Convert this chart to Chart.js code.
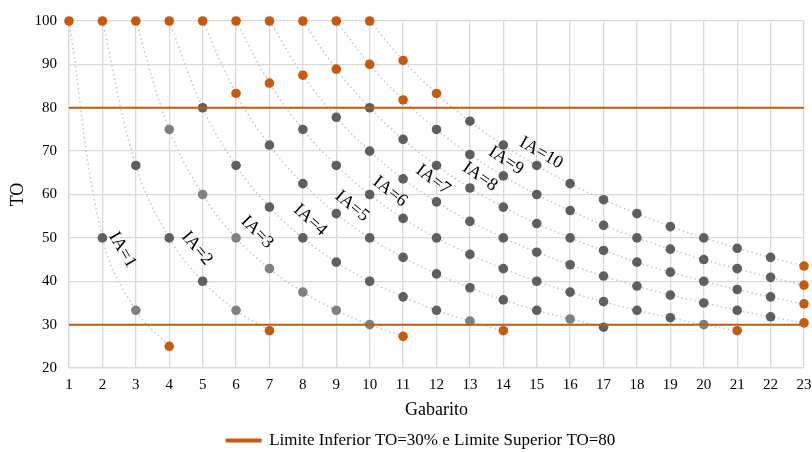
<!DOCTYPE html>
<html>
<head>
<meta charset="utf-8">
<script src="https://cdn.jsdelivr.net/npm/chart.js@4"></script>
<style>
  body { margin: 0; background: #fff; }
</style>
</head>
<body>
<canvas id="chart" width="812" height="452"></canvas>
<script>
// Gabarito values (x axis)
const gabarito = ['1','2','3','4','5','6','7','8','9','10','11','12','13','14','15','16','17','18','19','20','21','22','23'];

// TO values for each IA (null where the curve has not started)
const ia1 = [100, 50, 33.3, 25];
const ia2 = [null, 100, 66.7, 50, 40, 33.3, 28.6];
const ia3 = [null, null, 100, 75, 60, 50, 42.9, 37.5, 33.3, 30, 27.3];
const ia4 = [null, null, null, 100, 80, 66.7, 57.1, 50, 44.4, 40, 36.4, 33.3, 30.8, 28.6];
const ia5 = [null, null, null, null, 100, 83.3, 71.4, 62.5, 55.6, 50, 45.5, 41.7, 38.5, 35.7, 33.3, 31.3, 29.4];
const ia6 = [null, null, null, null, null, 100, 85.7, 75, 66.7, 60, 54.5, 50, 46.2, 42.9, 40, 37.5, 35.3, 33.3, 31.6, 30, 28.6];
const ia7 = [null, null, null, null, null, null, 100, 87.5, 77.8, 70, 63.6, 58.3, 53.8, 50, 46.7, 43.8, 41.2, 38.9, 36.8, 35, 33.3, 31.8, 30.4];
const ia8 = [null, null, null, null, null, null, null, 100, 88.9, 80, 72.7, 66.7, 61.5, 57.1, 53.3, 50, 47.1, 44.4, 42.1, 40, 38.1, 36.4, 34.8];
const ia9 = [null, null, null, null, null, null, null, null, 100, 90, 81.8, 75, 69.2, 64.3, 60, 56.3, 52.9, 50, 47.4, 45, 42.9, 40.9, 39.1];
const ia10 = [null, null, null, null, null, null, null, null, null, 100, 90.9, 83.3, 76.9, 71.4, 66.7, 62.5, 58.8, 55.6, 52.6, 50, 47.6, 45.5, 43.5];

const seriesNames = ['IA=1','IA=2','IA=3','IA=4','IA=5','IA=6','IA=7','IA=8','IA=9','IA=10'];
const seriesData = [ia1, ia2, ia3, ia4, ia5, ia6, ia7, ia8, ia9, ia10];

// label positions along the curves: [gabarito, TO, angle in degrees]
const labelPos = [
  [2.6, 47.2, 60], [4.83, 47.6, 50], [6.63, 51.3, 45], [8.22, 54.1, 42], [9.47, 57.3, 40],
  [10.61, 60.7, 38], [11.9, 63.4, 37], [13.3, 64.1, 35], [14.08, 67.8, 33], [15.13, 69.6, 30]
];

const lowerLimit = 30;
const upperLimit = 80;
const legendText = 'Limite Inferior TO=30% e Limite Superior TO=80';

const ORANGE = '#c55a11';
const GRAY = '#5f5f5f';
const LIGHT = '#808080';
const SERIF = "'Liberation Serif', 'Times New Roman', serif";

function pointColors(values, idx) {
  return values.map(function (v, i) {
    if (v === null) return GRAY;
    if (v > upperLimit || v < 29 || i === gabarito.length - 1) return ORANGE;
    const next = values[i + 1];
    if (idx === 2 || (next !== undefined && next < lowerLimit)) return LIGHT;
    return GRAY;
  });
}

const datasets = [
  {
    label: legendText,
    data: [{ x: '1', y: lowerLimit }, { x: '23', y: lowerLimit }],
    borderColor: ORANGE,
    backgroundColor: ORANGE,
    borderWidth: 2,
    pointRadius: 0,
    clip: false,
    order: 0
  },
  {
    label: 'upper',
    data: [{ x: '1', y: upperLimit }, { x: '23', y: upperLimit }],
    borderColor: ORANGE,
    backgroundColor: ORANGE,
    borderWidth: 2,
    pointRadius: 0,
    clip: false,
    order: 0
  }
];

seriesData.forEach(function (vals, idx) {
  const cols = pointColors(vals, idx);
  datasets.push({
    label: seriesNames[idx],
    data: vals,
    borderColor: '#c4c4c4',
    borderWidth: 1.5,
    borderDash: [1.5, 3],
    tension: 0.4,
    pointRadius: 4.8,
    pointHoverRadius: 4.8,
    pointBorderWidth: 0,
    pointBackgroundColor: cols,
    pointBorderColor: cols,
    clip: false,
    order: 1
  });
});

// draws the rotated IA=n texts next to their curves
const curveLabels = {
  id: 'curveLabels',
  afterLayout(chart) {
    // the legend sits a little right of the canvas centre and near the bottom edge
    chart.legend.left += 15;
    chart.legend.right += 15;
    chart.legend.top += 7;
    chart.legend.bottom += 7;
  },
  afterDatasetsDraw(chart) {
    const ctx = chart.ctx;
    const xs = chart.scales.x;
    const ys = chart.scales.y;
    ctx.save();
    ctx.font = '18px ' + SERIF;
    ctx.fillStyle = '#000';
    ctx.textAlign = 'center';
    ctx.textBaseline = 'middle';
    labelPos.forEach(function (p, i) {
      const px = xs.getPixelForValue(p[0] - 1);
      const py = ys.getPixelForValue(p[1]);
      ctx.save();
      ctx.translate(px, py);
      ctx.rotate(p[2] * Math.PI / 180);
      ctx.fillText(seriesNames[i], 0, 0);
      ctx.restore();
    });
    ctx.restore();
  }
};

new Chart(document.getElementById('chart'), {
  type: 'line',
  data: { labels: gabarito, datasets: datasets },
  options: {
    responsive: false,
    animation: false,
    layout: { padding: { left: 0, right: 0, top: 18, bottom: 0 } },
    plugins: {
      legend: {
        position: 'bottom',
        labels: {
          filter: function (item) { return item.datasetIndex === 0; },
          boxWidth: 34,
          boxHeight: 2,
          padding: 4,
          color: '#000',
          font: { family: SERIF, size: 17 }
        }
      },
      tooltip: { enabled: false }
    },
    scales: {
      x: {
        offset: false,
        grid: { color: '#d9d9d9', lineWidth: 1.3, drawTicks: false },
        border: { color: '#d9d9d9', width: 1.3 },
        ticks: { color: '#000', padding: 8, maxRotation: 0, autoSkip: false, font: { family: SERIF, size: 15 } },
        title: { display: true, text: 'Gabarito', color: '#000', padding: { top: 2, bottom: 0 }, font: { family: SERIF, size: 18 } },
        afterFit: function (scale) {
          scale.height = 53;
          scale.paddingRight = 8;
        }
      },
      y: {
        min: 20,
        max: 100,
        grid: { color: '#d9d9d9', lineWidth: 1.3, drawTicks: false },
        border: { color: '#d9d9d9', width: 1.3 },
        ticks: { stepSize: 10, color: '#000', padding: 12, font: { family: SERIF, size: 15 } },
        title: { display: true, text: 'TO', color: '#000', padding: { top: 7, bottom: 0 }, font: { family: SERIF, size: 18 } },
        afterFit: function (scale) { scale.width = 69; }
      }
    }
  },
  plugins: [curveLabels]
});
</script>
</body>
</html>
